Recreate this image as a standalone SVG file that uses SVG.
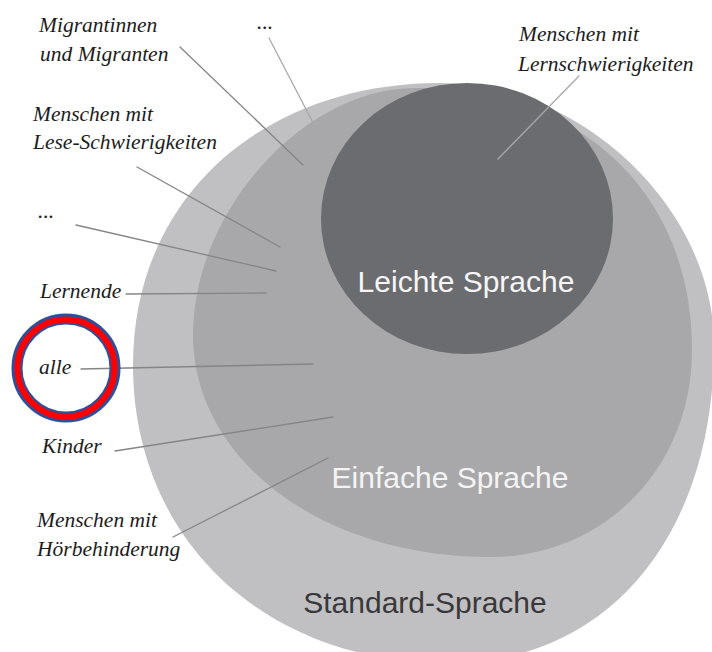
<svg xmlns="http://www.w3.org/2000/svg" width="712" height="652" viewBox="0 0 712 652">
<style>
.lbl{font-family:"Liberation Serif","DejaVu Serif",serif;font-style:italic;font-size:21.5px;fill:#1c1c1c}
.big{font-family:"Liberation Sans",Arial,sans-serif;font-size:30px;text-anchor:middle}
.ln{stroke:#858585;stroke-width:1.3;fill:none;stroke-linecap:round}
.ln.light{stroke:#a8a8a8}
</style>
<rect x="0" y="0" width="712" height="652" fill="#ffffff"/>
<g id="standard-sprache">
<path fill="#c0c0c2" d="M133,365 C133,193 268,83 440,83 C582,83 714,209 714,345 C714,536 608,663 448,663 C264,663 133,539 133,365 Z"/>
<text class="big" x="425" y="613" fill="#38383a">Standard-Sprache</text>
</g>
<g id="einfache-sprache">
<path fill="#a8a8ab" d="M193,335 C193,211 304,88 415,88 C581,88 692,193 692,350 C692,468 604,557 490,557 C322,557 193,460 193,335 Z"/>
<text class="big" x="450" y="488" fill="#f4f4f4">Einfache Sprache</text>
</g>
<g id="leichte-sprache">
<ellipse cx="467" cy="218.5" rx="146" ry="135.5" fill="#6b6c70"/>
<text class="big" x="466" y="292" fill="#f6f6f6">Leichte Sprache</text>
</g>
<g id="connectors">
<line class="ln" x1="180" y1="47" x2="303" y2="165"/>
<line class="ln light" x1="269" y1="38" x2="323" y2="142"/>
<line class="ln" x1="137" y1="167" x2="280" y2="247"/>
<line class="ln" x1="76" y1="225" x2="276" y2="271"/>
<line class="ln" x1="126" y1="294" x2="266" y2="293"/>
<line class="ln" x1="81" y1="369" x2="313" y2="364"/>
<line class="ln" x1="115" y1="451" x2="333" y2="417"/>
<line class="ln" x1="173" y1="537" x2="328" y2="458"/>
<line class="ln light" x1="579" y1="76" x2="498" y2="159"/>
</g>
<g id="label-migranten">
<text class="lbl" x="39" y="32">Migrantinnen</text>
<text class="lbl" x="40" y="61">und Migranten</text>
</g>
<g id="label-dots-top">
<text class="lbl" x="257" y="29">...</text>
</g>
<g id="label-lernschwierigkeiten">
<text class="lbl" x="519" y="41">Menschen mit</text>
<text class="lbl" x="518" y="71">Lernschwierigkeiten</text>
</g>
<g id="label-lese">
<text class="lbl" x="33" y="121">Menschen mit</text>
<text class="lbl" x="33" y="149">Lese-Schwierigkeiten</text>
</g>
<g id="label-dots-left">
<text class="lbl" x="38" y="218">...</text>
</g>
<g id="label-lernende">
<text class="lbl" x="40" y="298">Lernende</text>
</g>
<g id="label-alle">
<circle cx="66" cy="368" r="49" fill="none" stroke="#2f4e9c" stroke-width="11"/>
<circle cx="66" cy="368" r="48.5" fill="none" stroke="#ff0000" stroke-width="6"/>
<text class="lbl" x="39" y="374">alle</text>
</g>
<g id="label-kinder">
<text class="lbl" x="42" y="453">Kinder</text>
</g>
<g id="label-hoer">
<text class="lbl" x="37" y="527">Menschen mit</text>
<text class="lbl" x="37" y="556">Hörbehinderung</text>
</g>
</svg>
